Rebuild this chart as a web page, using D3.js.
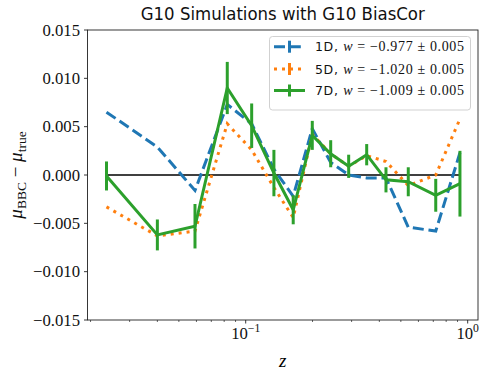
<!DOCTYPE html>
<html>
<head>
<meta charset="utf-8">
<script src="https://cdn.jsdelivr.net/npm/d3@7"></script>
<style>
  body { margin: 0; background: #fff; }
  svg { display: block; }
  .serif { font-family: "Liberation Serif", "DejaVu Serif", serif; }
</style>
</head>
<body>
<svg width="490" height="371"></svg>
<script>
const zBins = [0.0236, 0.040, 0.0591, 0.0826, 0.1064, 0.134, 0.1637, 0.1995, 0.2415, 0.291, 0.3508, 0.4285, 0.54, 0.718, 0.923];

const bias1D = [0.0065, 0.0029, -0.0016, 0.0073, 0.0053, 0.0006, -0.0022, 0.0048, 0.0013, 0.0000, -0.0003, -0.0003, -0.0054, -0.0058, 0.0023];
const bias5D = [-0.0033, -0.0063, -0.0058, 0.0053, 0.0026, -0.0013, -0.0044, 0.0042, 0.0022, 0.0009, 0.0020, 0.0014, -0.0011, 0.0000, 0.0058];
const bias7D = [-0.0001, -0.0062, -0.0053, 0.0090, 0.0051, 0.0002, -0.0036, 0.0041, 0.0022, 0.0009, 0.0021, -0.0005, -0.0007, -0.0021, -0.0009];
const err7D  = [0.0015, 0.0016, 0.0023, 0.0027, 0.0023, 0.0024, 0.0015, 0.0015, 0.0014, 0.0012, 0.0011, 0.0013, 0.0015, 0.0017, 0.0034];

const yTicks = [-0.015, -0.010, -0.005, 0.000, 0.005, 0.010, 0.015];
const legendNames = ["1D", "5D", "7D"];
const legendW = ["\u22120.977", "\u22121.020", "\u22121.009"];

const svg = d3.select("svg");
const margin = { left: 87.5, right: 478, top: 30, bottom: 320 };

const x = d3.scaleLog().domain([0.01938, 1.113]).range([margin.left, margin.right]);
const y = d3.scaleLinear().domain([-0.015, 0.015]).range([margin.bottom, margin.top]);

const colors = ["#1f77b4", "#ff7f0e", "#2ca02c"];
const dashes = ["11,4.8", "3,5", null];
const series = [bias1D, bias5D, bias7D];
const lw = 3;

// frame
svg.append("rect")
  .attr("x", margin.left).attr("y", margin.top)
  .attr("width", margin.right - margin.left).attr("height", margin.bottom - margin.top)
  .attr("fill", "none").attr("stroke", "#222").attr("stroke-width", 0.9);

// y axis
const yAxis = svg.append("g").attr("transform", `translate(${margin.left},0)`);
yTicks.forEach(t => {
  yAxis.append("line").attr("x1", -3.5).attr("x2", 0).attr("y1", y(t)).attr("y2", y(t))
    .attr("stroke", "#222").attr("stroke-width", 0.9);
  yAxis.append("text").attr("class", "serif")
    .attr("x", -7.5).attr("y", y(t)).attr("dy", "0.34em")
    .attr("text-anchor", "end").attr("font-size", 16.7).attr("fill", "#111")
    .text(d3.format(".3f")(t).replace("-", "\u2212"));
});

// x axis
const xAxis = svg.append("g").attr("transform", `translate(0,${margin.bottom})`);
const minor = [];
[0.01, 0.1].forEach(dec => { for (let k = 2; k <= 9; k++) minor.push(dec * k); });
minor.filter(v => v >= x.domain()[0] && v <= x.domain()[1]).forEach(v => {
  xAxis.append("line").attr("x1", x(v)).attr("x2", x(v)).attr("y1", 0).attr("y2", 2)
    .attr("stroke", "#222").attr("stroke-width", 0.7);
});
[[0.1, "\u22121"], [1, "0"]].forEach(([v, ex]) => {
  xAxis.append("line").attr("x1", x(v)).attr("x2", x(v)).attr("y1", 0).attr("y2", 3.5)
    .attr("stroke", "#222").attr("stroke-width", 0.9);
  const t = xAxis.append("text").attr("class", "serif")
    .attr("x", x(v)).attr("y", 18.5).attr("text-anchor", "middle")
    .attr("font-size", 16.7).attr("fill", "#111");
  t.append("tspan").text("10");
  t.append("tspan").attr("dy", -6.5).attr("font-size", 11.7).text(ex);
});

// axis labels
svg.append("text").attr("class", "serif")
  .attr("x", (margin.left + margin.right) / 2).attr("y", 367)
  .attr("text-anchor", "middle").attr("font-size", 19).attr("font-style", "italic")
  .text("z");

const yl = svg.append("text").attr("class", "serif")
  .attr("transform", `translate(22,${(margin.top + margin.bottom) / 2}) rotate(-90)`)
  .attr("text-anchor", "middle").attr("font-size", 19).attr("fill", "#111");
yl.append("tspan").attr("font-style", "italic").text("\u03bc");
yl.append("tspan").attr("dy", 4).attr("font-size", 13.5).text("BBC");
yl.append("tspan").attr("dy", -4).text(" \u2212 ");
yl.append("tspan").attr("font-style", "italic").text("\u03bc");
yl.append("tspan").attr("dy", 4).attr("font-size", 13.5).text("true");

// title
svg.append("text")
  .attr("x", (margin.left + margin.right) / 2).attr("y", 20)
  .attr("text-anchor", "middle")
  .attr("font-family", "DejaVu Sans, sans-serif").attr("font-size", 18).attr("fill", "#111")
  .attr("textLength", 284).attr("lengthAdjust", "spacingAndGlyphs")
  .text("G10 Simulations with G10 BiasCor");

// zero line
svg.append("line")
  .attr("x1", x(zBins[0])).attr("x2", x(zBins[zBins.length - 1]))
  .attr("y1", y(0)).attr("y2", y(0))
  .attr("stroke", "#000").attr("stroke-width", 1.5);

const line = d3.line().x((d, i) => x(zBins[i])).y(d => y(d));

series.forEach((vals, si) => {
  svg.append("path").datum(vals)
    .attr("d", line)
    .attr("fill", "none")
    .attr("stroke", colors[si])
    .attr("stroke-width", lw)
    .attr("stroke-dasharray", dashes[si]);
});

// error bars of the 7D fit
svg.append("g").selectAll("line").data(bias7D).join("line")
  .attr("x1", (d, i) => x(zBins[i])).attr("x2", (d, i) => x(zBins[i]))
  .attr("y1", (d, i) => y(d - err7D[i])).attr("y2", (d, i) => y(d + err7D[i]))
  .attr("stroke", colors[2]).attr("stroke-width", lw);

// legend
const lg = svg.append("g");
lg.append("rect").attr("x", 269.5).attr("y", 36.5).attr("width", 201).attr("height", 73.5)
  .attr("rx", 3).attr("fill", "#fff").attr("fill-opacity", 0.85)
  .attr("stroke", "#ccc").attr("stroke-width", 0.9);
const rows = [46.7, 69, 90.5];
legendNames.forEach((name, i) => {
  const ry = rows[i];
  lg.append("line").attr("x1", 274).attr("x2", 305).attr("y1", ry).attr("y2", ry)
    .attr("stroke", colors[i]).attr("stroke-width", lw).attr("stroke-dasharray", dashes[i]);
  lg.append("line").attr("x1", 289.5).attr("x2", 289.5).attr("y1", ry - 6).attr("y2", ry + 6)
    .attr("stroke", colors[i]).attr("stroke-width", lw);
  const t = lg.append("text").attr("x", 315).attr("y", ry).attr("dy", "0.36em")
    .attr("font-size", 12.5).attr("fill", "#111")
    .attr("textLength", 149).attr("lengthAdjust", "spacing");
  t.append("tspan").attr("font-family", "DejaVu Sans, sans-serif").text(name + ", ");
  t.append("tspan").attr("class", "serif").attr("font-size", 14).attr("font-style", "italic").text("w");
  t.append("tspan").attr("class", "serif").attr("font-size", 14).text(" = " + legendW[i] + " \u00b1 0.005");
});
</script>
</body>
</html>
